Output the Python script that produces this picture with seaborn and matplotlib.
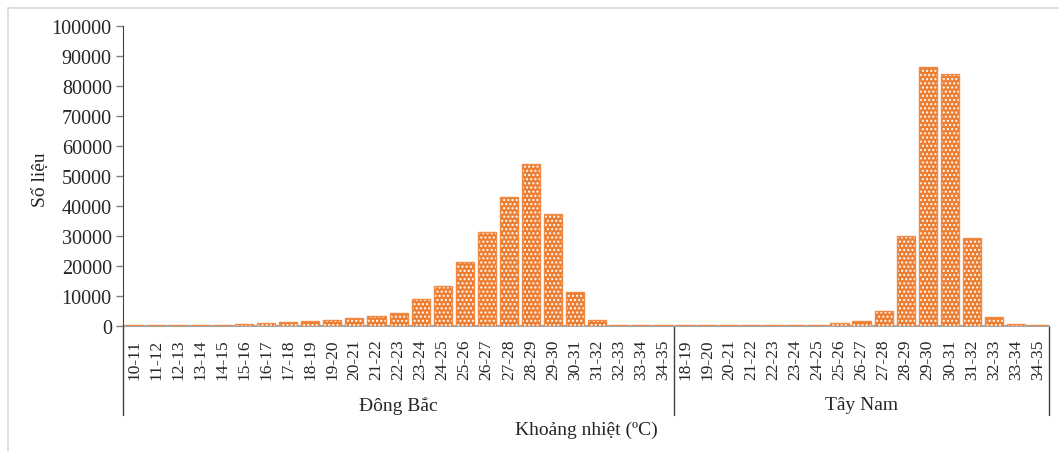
import numpy as np
import pandas as pd
import seaborn as sns
import matplotlib.pyplot as plt
from matplotlib.lines import Line2D
from matplotlib.patches import Rectangle
import matplotlib.transforms as mtransforms

# temperature ranges and counts for each monsoon group
dong_bac_labels = ["10-11", "11-12", "12-13", "13-14", "14-15", "15-16", "16-17", "17-18",
                   "18-19", "19-20", "20-21", "21-22", "22-23", "23-24", "24-25", "25-26",
                   "26-27", "27-28", "28-29", "29-30", "30-31", "31-32", "32-33", "33-34", "34-35"]
dong_bac_values = [450, 450, 450, 450, 450, 700, 900, 1200,
                   1600, 1900, 2700, 3300, 4500, 9000, 13200, 21300,
                   31300, 43100, 54000, 37500, 11400, 1900, 450, 450, 450]

tay_nam_labels = ["18-19", "19-20", "20-21", "21-22", "22-23", "23-24", "24-25", "25-26",
                  "26-27", "27-28", "28-29", "29-30", "30-31", "31-32", "32-33", "33-34", "34-35"]
tay_nam_values = [450, 450, 450, 450, 450, 450, 450, 900,
                  1800, 5000, 30000, 86200, 84000, 29300, 2900, 700, 450]

groups = ["Đông Bắc", "Tây Nam"]

df = pd.DataFrame({
    "group": [groups[0]] * len(dong_bac_labels) + [groups[1]] * len(tay_nam_labels),
    "label": dong_bac_labels + tay_nam_labels,
    "value": dong_bac_values + tay_nam_values,
})
df["key"] = df["group"] + " " + df["label"]

sns.set_style("white")
plt.rcParams["font.family"] = ["Liberation Serif", "DejaVu Serif"]
plt.rcParams["hatch.linewidth"] = 1.0

fig = plt.figure(figsize=(10.59, 4.52), dpi=100)
ax = fig.add_axes([0.1161, 0.2765, 0.8744, 0.6637])

sns.barplot(data=df, x="key", y="value", order=list(df["key"]), color="#ED7D31",
            width=0.82, edgecolor="white", linewidth=0, hatch="....", ax=ax)
for p in list(ax.patches):
    p.set_facecolor("#ED7D31")
    p.set_zorder(3)
    # light orange outline on top of the hatched bar
    ax.add_patch(Rectangle(p.get_xy(), p.get_width(), p.get_height(), fill=False,
                           edgecolor="#F08A45", lw=1, zorder=3.1))

ax.set_xlim(-0.5, len(df) - 0.5)
ax.set_ylim(0, 100000)
ax.set_yticks(np.arange(0, 100001, 10000))
ax.set_yticklabels([str(v) for v in range(0, 100001, 10000)], fontsize=14.5)
ax.set_xticks(range(len(df)))
ax.set_xticklabels(df["label"], rotation=90, fontsize=12.5)
ax.tick_params(axis="x", length=0, pad=9)
ax.tick_params(axis="y", length=5, width=1, color="#7F7F7F", left=True, direction="out", pad=3)

for s in ["top", "right"]:
    ax.spines[s].set_visible(False)
ax.spines["bottom"].set_color("#A6A6A6")
ax.spines["bottom"].set_linewidth(1.5)
ax.spines["bottom"].set_zorder(2)
ax.spines["left"].set_color("#404040")

ax.set_xlabel("")
ax.set_ylabel("Số liệu", fontsize=14)
ax.yaxis.set_label_coords(-0.08, 0.49)

# group separators below the axis
trans = mtransforms.blended_transform_factory(ax.transData, ax.transAxes)
n1 = len(dong_bac_labels)
for xs in [-0.5, n1 - 0.5, len(df) - 0.5]:
    ax.add_line(Line2D([xs, xs], [0, -0.297], transform=trans, color="#404040",
                       lw=1, clip_on=False))

ax.text((n1 - 1) / 2, -0.263, groups[0], transform=trans, ha="center", va="center", fontsize=14)
ax.text(n1 + (len(tay_nam_labels) - 1) / 2, -0.263, groups[1], transform=trans,
        ha="center", va="center", fontsize=14)
ax.text(0.5, -0.343, "Khoảng nhiệt (ºC)", transform=ax.transAxes, ha="center",
        va="center", fontsize=14)

# light frame on top and left
fig.add_artist(Line2D([8 / 1059, 1], [1 - 9 / 452, 1 - 9 / 452], transform=fig.transFigure,
                      color="#D9D9D9", lw=1.2))
fig.add_artist(Line2D([8 / 1059, 8 / 1059], [0, 1 - 9 / 452], transform=fig.transFigure,
                      color="#D9D9D9", lw=1.2))

fig.savefig("out.png", dpi=100)
